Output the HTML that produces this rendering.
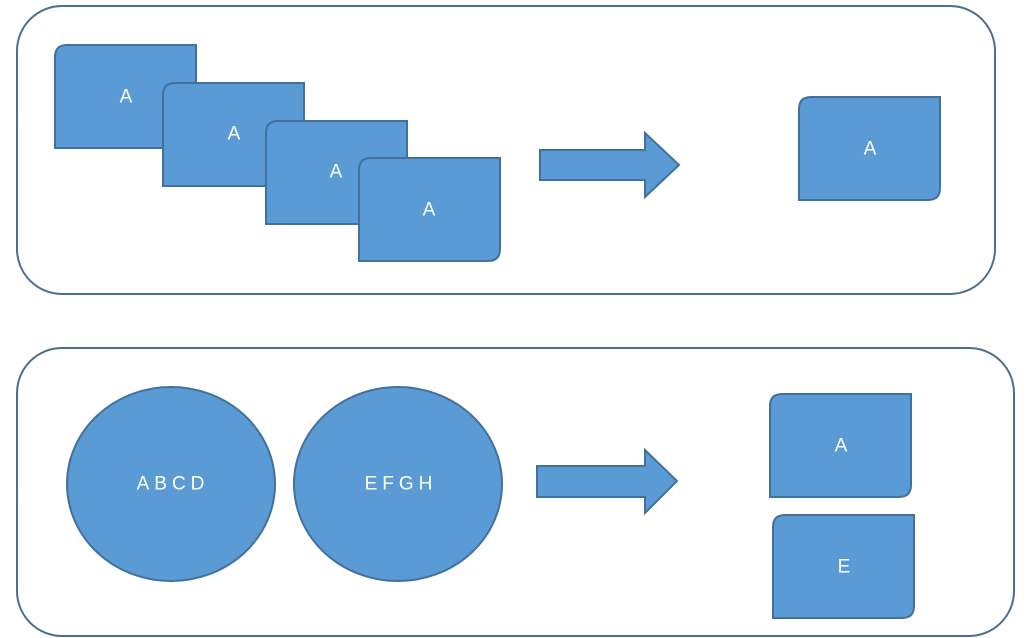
<!DOCTYPE html>
<html><head><meta charset="utf-8"><style>
html,body{margin:0;padding:0;background:#fff;}
svg{display:block;}
text{font-family:"Liberation Sans",sans-serif;font-size:19px;fill:#fff;text-anchor:middle;dominant-baseline:central;}
</style></head><body>
<svg width="1029" height="638" viewBox="0 0 1029 638" xmlns="http://www.w3.org/2000/svg">
<defs>
<symbol id="r" overflow="visible">
<path d="M12,0 H141 V91 Q141,103 129,103 H0 V12 Q0,0 12,0 Z" fill="#5b9bd5" stroke="#41719c" stroke-width="2"/>
</symbol>
</defs>
<rect x="17" y="6" width="978" height="288" rx="45" fill="none" stroke="#4a6f8f" stroke-width="2"/>
<rect x="17" y="348" width="997" height="288" rx="45" fill="none" stroke="#4a6f8f" stroke-width="2"/>

<use href="#r" x="55" y="45"/><text x="126" y="97">A</text>
<use href="#r" x="163" y="83"/><text x="234" y="134">A</text>
<use href="#r" x="266" y="121"/><text x="336" y="172">A</text>
<use href="#r" x="359" y="158"/><text x="429" y="210">A</text>

<path d="M540,150 H645 V133 L679,165 L645,197 V180 H540 Z" fill="#5b9bd5" stroke="#41719c" stroke-width="2"/>
<use href="#r" x="799" y="97"/><text x="870" y="149">A</text>

<ellipse cx="171" cy="484" rx="104" ry="97" fill="#5b9bd5" stroke="#41719c" stroke-width="2"/>
<text x="173" y="484" letter-spacing="5">ABCD</text>
<ellipse cx="398" cy="484" rx="104" ry="97" fill="#5b9bd5" stroke="#41719c" stroke-width="2"/>
<text x="401" y="484" letter-spacing="5">EFGH</text>

<path d="M537,466 H645 V450 L677,481 L645,513 V497 H537 Z" fill="#5b9bd5" stroke="#41719c" stroke-width="2"/>
<use href="#r" x="770" y="394"/><text x="841" y="446">A</text>
<use href="#r" x="773" y="515"/><text x="844" y="567">E</text>
</svg>
</body></html>
